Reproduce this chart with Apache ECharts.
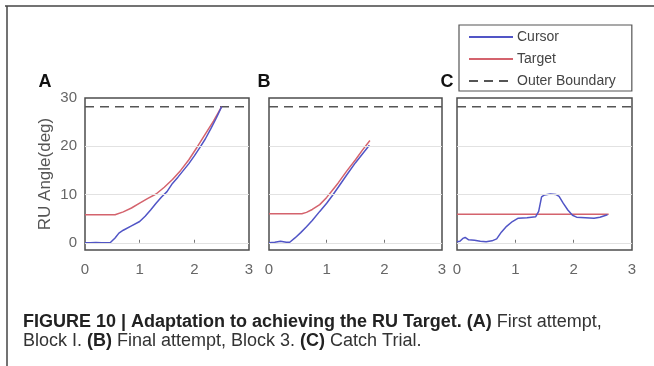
<!DOCTYPE html>
<html>
<head>
<meta charset="utf-8">
<script src="https://cdn.jsdelivr.net/npm/echarts@6/dist/echarts.min.js"></script>
<style>
html, body { margin: 0; padding: 0; background: #fff; }
#chart { width: 654px; height: 366px; }
</style>
</head>
<body>
<div id="chart"></div>
<script>
// tick labels
var xTicks = [0, 1, 2, 3];
var yTicks = [0, 10, 20, 30];
var gridValues = [0, 10, 20];
var boundary = 28.2;

// panel A - first attempt, block 1
var cursorA = [[0,0],[0.1,0],[0.2,0.05],[0.3,0],[0.46,0],[0.55,1.0],[0.62,2.0],[0.7,2.6],[0.85,3.5],[1.0,4.4],[1.1,5.5],[1.2,6.8],[1.3,8.2],[1.4,9.5],[1.5,10.6],[1.6,12.3],[1.7,13.6],[1.8,15.0],[1.9,16.4],[2.0,18.0],[2.1,19.7],[2.2,21.5],[2.3,23.6],[2.4,25.8],[2.5,28.2]];
var targetA = [[0,5.8],[0.55,5.8],[0.7,6.4],[0.85,7.2],[1.0,8.2],[1.15,9.2],[1.3,10.1],[1.45,11.5],[1.6,13.1],[1.75,15.0],[1.9,17.2],[2.05,19.8],[2.2,22.5],[2.35,25.2],[2.5,28.2]];

// panel B - final attempt, block 3
var cursorB = [[0,0],[0.1,0.1],[0.2,0.3],[0.3,0.1],[0.36,0.1],[0.45,1.0],[0.55,2.1],[0.65,3.3],[0.75,4.6],[0.88,6.5],[1.0,8.2],[1.1,9.8],[1.2,11.5],[1.35,14.1],[1.5,16.6],[1.62,18.4],[1.74,20.2]];
var targetB = [[0,6.0],[0.57,6.0],[0.65,6.3],[0.75,6.9],[0.88,7.9],[1.0,9.4],[1.1,10.9],[1.2,12.4],[1.35,14.9],[1.5,17.2],[1.62,19.2],[1.75,21.2]];

// panel C - catch trial
var cursorC = [[0,0.2],[0.05,0.3],[0.1,0.9],[0.14,1.1],[0.2,0.6],[0.3,0.5],[0.4,0.3],[0.5,0.2],[0.6,0.4],[0.68,0.8],[0.76,2.2],[0.85,3.4],[0.95,4.4],[1.05,5.1],[1.2,5.2],[1.35,5.4],[1.4,6.5],[1.45,9.5],[1.5,9.9],[1.6,10.1],[1.7,10.0],[1.75,9.6],[1.82,8.2],[1.9,6.8],[1.98,5.7],[2.05,5.3],[2.2,5.2],[2.35,5.1],[2.45,5.3],[2.58,5.8]];
var targetC = [[0,5.9],[2.6,5.9]];

var panelCursor = [cursorA, cursorB, cursorC];
var panelTarget = [targetA, targetB, targetC];
var panelLetters = ['A', 'B', 'C'];

var chart = echarts.init(document.getElementById('chart'));

var font = 'Liberation Sans, Arial, sans-serif';
var blue = '#5155c6';
var red = '#d4636d';

var grids = [
    { left: 85, top: 98, width: 164, height: 152 },
    { left: 269, top: 98, width: 173, height: 152 },
    { left: 457, top: 98, width: 175, height: 152 }
];
grids.forEach(function (g) {
    g.show = true;
    g.borderColor = '#4d4d4d';
    g.borderWidth = 1.5;
    g.backgroundColor = '#fff';
});

var xAxes = [], yAxes = [], series = [];
for (var i = 0; i < 3; i++) {
    xAxes.push({
        gridIndex: i, type: 'value', min: 0, max: 3, interval: 1,
        axisLine: { show: false },
        axisTick: { inside: true, length: 3, lineStyle: { color: '#777' } },
        splitLine: { show: false },
        axisLabel: { color: '#666', fontSize: 15, fontFamily: font, margin: 12 }
    });
    yAxes.push({
        gridIndex: i, type: 'value', min: -1.5, max: 30,
        name: i === 0 ? 'RU Angle(deg)' : '',
        nameLocation: 'middle', nameRotate: 90, nameGap: 31,
        nameTextStyle: { color: '#555', fontSize: 17, fontFamily: font },
        axisLine: { show: false },
        axisTick: { show: false },
        splitLine: { show: false },
        axisLabel: {
            show: i === 0, customValues: yTicks,
            color: '#666', fontSize: 15, fontFamily: font, margin: 8
        }
    });
    // light gridlines
    series.push({
        type: 'line', xAxisIndex: i, yAxisIndex: i, data: [], z: 1, silent: true,
        markLine: {
            silent: true, symbol: 'none', label: { show: false },
            lineStyle: { color: '#e2e2e2', width: 1.2, type: 'solid' },
            data: gridValues.map(function (v) { return { yAxis: v }; })
        }
    });
    series.push({
        name: 'Outer Boundary', type: 'line', xAxisIndex: i, yAxisIndex: i,
        data: [[0, boundary], [3, boundary]], symbol: 'none', z: 2,
        lineStyle: { color: '#555', width: 1.5, type: [9, 6] }, itemStyle: { color: '#555' }
    });
    series.push({
        name: 'Target', type: 'line', xAxisIndex: i, yAxisIndex: i,
        data: panelTarget[i], symbol: 'none', z: 3,
        lineStyle: { color: red, width: 1.5 }, itemStyle: { color: red }
    });
    series.push({
        name: 'Cursor', type: 'line', xAxisIndex: i, yAxisIndex: i,
        data: panelCursor[i], symbol: 'none', z: 4,
        lineStyle: { color: blue, width: 1.5 }, itemStyle: { color: blue }
    });
}

var letterX = [45, 264, 447];
var captionRich = {
    b: { fontFamily: font, fontSize: 18, fontWeight: 'bold', fill: '#222' },
    r: { fontFamily: font, fontSize: 18, fill: '#333' }
};
var graphics = [
    { type: 'line', shape: { x1: 5, y1: 6, x2: 654, y2: 6 }, style: { stroke: '#444', lineWidth: 1.5 } },
    { type: 'line', shape: { x1: 7, y1: 6, x2: 7, y2: 366 }, style: { stroke: '#444', lineWidth: 1.5 } },
    {
        type: 'text', x: 23, y: 322,
        style: {
            text: '{b|FIGURE 10 | Adaptation to achieving the RU Target. (A)}{r| First attempt,}',
            verticalAlign: 'middle', rich: captionRich
        }
    },
    {
        type: 'text', x: 23, y: 341,
        style: {
            text: '{r|Block I. }{b|(B)}{r| Final attempt, Block 3. }{b|(C)}{r| Catch Trial.}',
            verticalAlign: 'middle', rich: captionRich
        }
    }
];
panelLetters.forEach(function (l, i) {
    graphics.push({
        type: 'text', x: letterX[i], y: 82,
        style: {
            text: l, fontFamily: font, fontSize: 18, fontWeight: 'bold', fill: '#111',
            align: 'center', verticalAlign: 'middle'
        }
    });
});

chart.setOption({
    animation: false,
    backgroundColor: '#fff',
    legend: {
        data: ['Cursor', 'Target', 'Outer Boundary'],
        orient: 'vertical', left: 459, top: 25,
        padding: [5, 16, 3, 9],
        itemWidth: 44, itemHeight: 14, itemGap: 8,
        itemStyle: { opacity: 0 },
        borderColor: '#555', borderWidth: 1.2, borderRadius: 0,
        backgroundColor: '#fff',
        textStyle: { color: '#444', fontSize: 14, fontFamily: font, padding: [0, 0, 0, -1] }
    },
    grid: grids,
    xAxis: xAxes,
    yAxis: yAxes,
    series: series,
    graphic: graphics
});
</script>
</body>
</html>
